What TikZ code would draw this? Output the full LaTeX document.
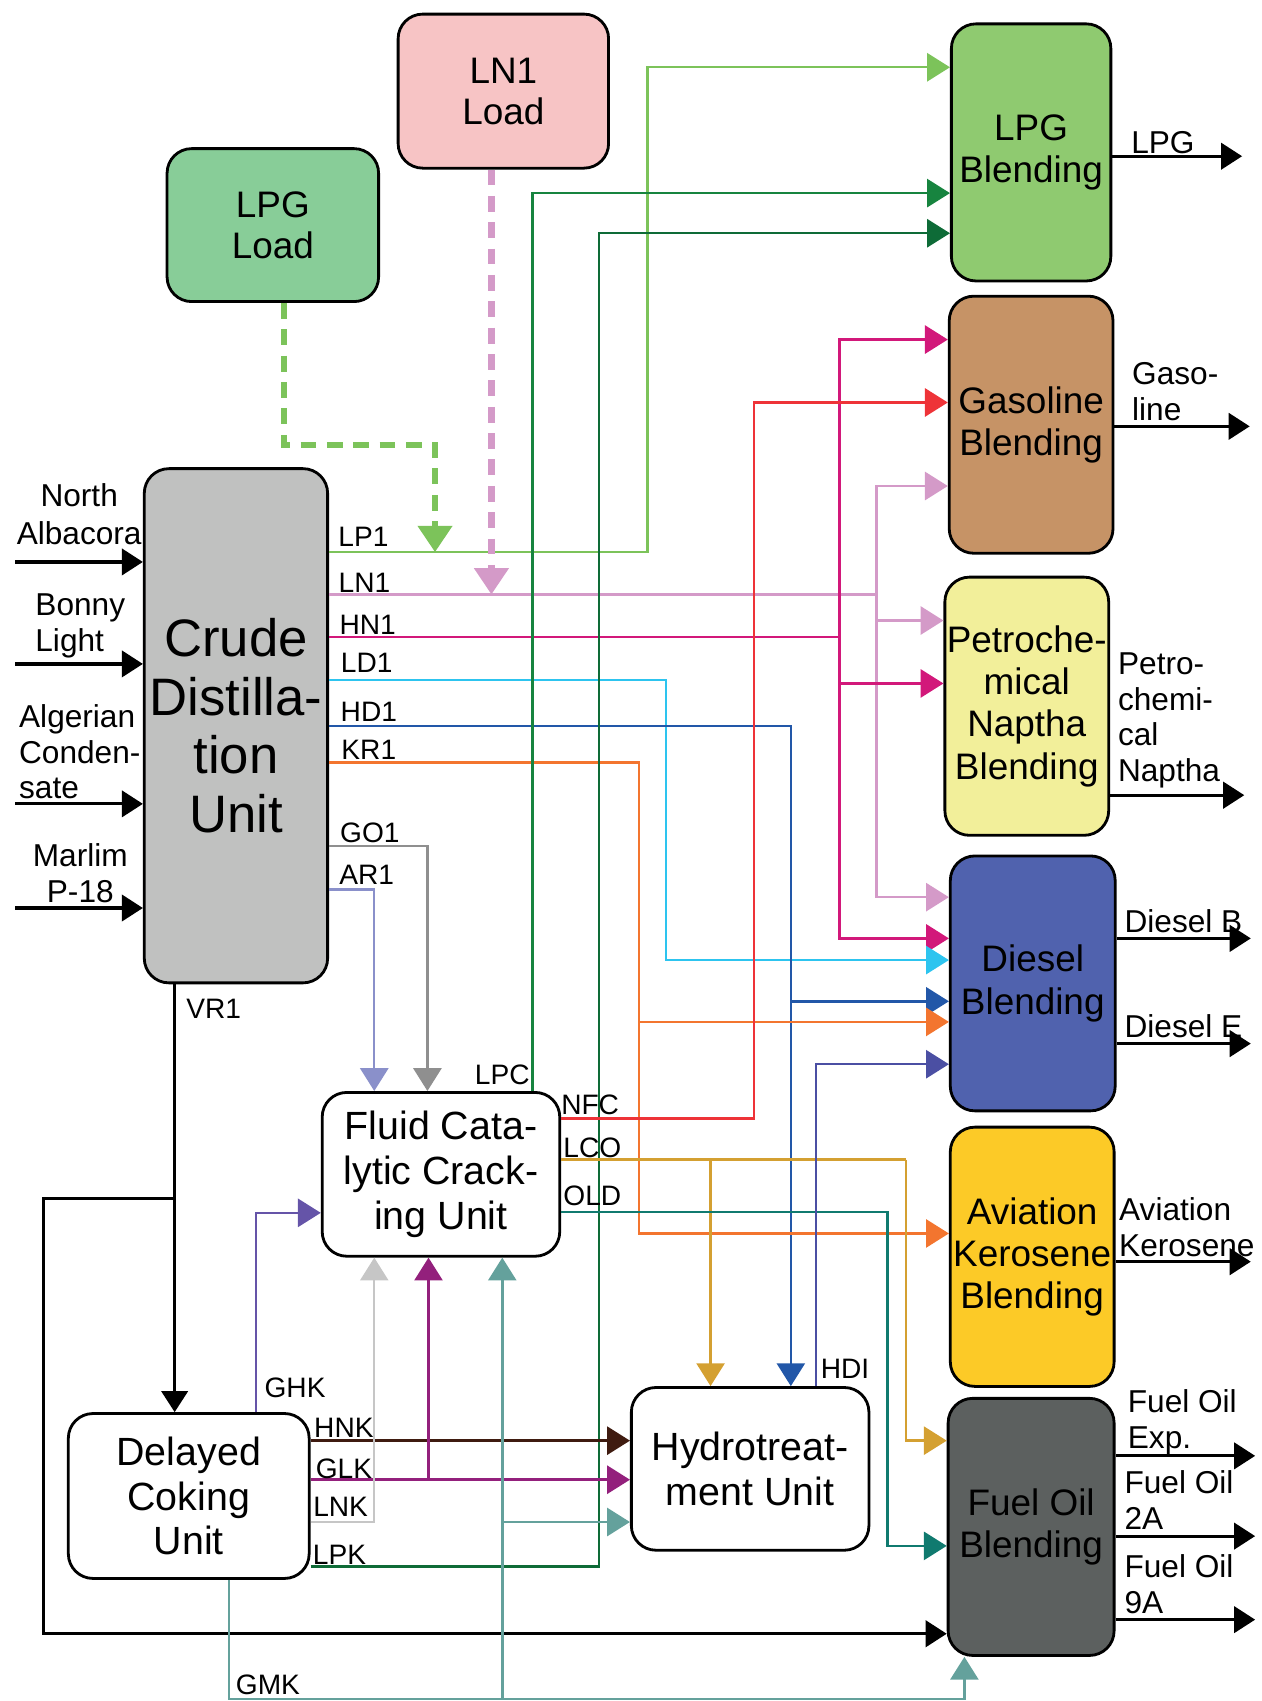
\documentclass[tikz,border=0pt]{standalone}
\usepackage{fontspec}
\setmainfont{Liberation Sans}
\usepackage{xcolor}
\usepackage{tikz}
\usetikzlibrary{arrows.meta}

\definecolor{cdugray}{HTML}{C0C1C0}
\definecolor{lpgloadc}{HTML}{88CD98}
\definecolor{ln1loadc}{HTML}{F7C4C5}
\definecolor{lpgbc}{HTML}{8FCA70}
\definecolor{gasbc}{HTML}{C69366}
\definecolor{petbc}{HTML}{F2EF9A}
\definecolor{diebc}{HTML}{5062AE}
\definecolor{avibc}{HTML}{FCCA27}
\definecolor{fuelbc}{HTML}{5C605F}
\definecolor{lp1c}{HTML}{7CC35A}
\definecolor{ln1c}{HTML}{D49AC8}
\definecolor{hn1c}{HTML}{D2187A}
\definecolor{ld1c}{HTML}{2DC4EF}
\definecolor{hd1c}{HTML}{2257A8}
\definecolor{kr1c}{HTML}{F3752F}
\definecolor{go1c}{HTML}{8F8F8F}
\definecolor{ar1c}{HTML}{8A90CA}
\definecolor{lpcc}{HTML}{17843F}
\definecolor{lpkc}{HTML}{0E6B37}
\definecolor{nfcc}{HTML}{EE3338}
\definecolor{lcoc}{HTML}{D4A031}
\definecolor{oldc}{HTML}{107A6F}
\definecolor{hdic}{HTML}{4B4FA3}
\definecolor{ghkc}{HTML}{6554A8}
\definecolor{hnkc}{HTML}{3F1B10}
\definecolor{glkc}{HTML}{93207C}
\definecolor{lnkc}{HTML}{C6C6C6}
\definecolor{gmkc}{HTML}{64A19C}

\begin{document}
\begin{tikzpicture}[x=0.10851mm, y=-0.10851mm]

\tikzstyle{every node}=[font=\fontsize{8}{9.5}\selectfont, inner sep=0pt]
\tikzstyle{unit}=[draw, line width=0.8pt, rounded corners=7pt, align=center, font=\fontsize{11.2}{12.7}\selectfont]
\tikzstyle{blend}=[unit, font=\fontsize{10.5}{12}\selectfont, execute at begin node={\rule{0pt}{10pt}}]
\tikzstyle{load}=[unit, font=\fontsize{10.5}{11.7}\selectfont]
\tikzstyle{ends}=[font=\fontsize{9}{10.2}\selectfont]
\tikzstyle{flow}=[line width=0.7pt, -{Triangle[length=6.5pt,width=8pt]}]
\tikzstyle{pipe}=[line width=0.7pt]
\tikzstyle{feed}=[line width=0.9pt, -{Triangle[length=6pt,width=7.5pt]}]
\tikzstyle{loading}=[line width=1.8pt, dash pattern=on 4.5pt off 3pt, -{Triangle[length=7.5pt,width=9.5pt]}]
\tikzset{boxsize/.style 2 args={minimum width=#1*0.10851mm, minimum height=#2*0.10851mm}}

\useasboundingbox (0,0) rectangle (1163,1568);

% units %
\node[unit, fill=cdugray, boxsize={169}{474}, font=\fontsize{15}{16.7}\selectfont] (cdu) at (217.5,669) {Crude\\Distilla-\\tion\\Unit};
\node[unit, fill=white, boxsize={219}{151}, execute at begin node={\rule{0pt}{10.1pt}}] (fcc) at (406.5,1082.5) {Fluid Cata-\\lytic Crack-\\ing Unit};
\node[unit, fill=white, boxsize={222}{152}] (dcu) at (174,1379) {Delayed\\Coking\\Unit};
\node[unit, fill=white, boxsize={219}{150}] (hdt) at (691.5,1354) {Hydrotreat-\\ment Unit};
\node[load, fill=lpgloadc, boxsize={195}{141}] (lpgload) at (251.5,207.5) {LPG\\Load};
\node[load, fill=ln1loadc, boxsize={194}{142}] (ln1load) at (464,84) {LN1\\Load};

% blending %
\node[blend, fill=lpgbc, boxsize={147}{237}] (lpgb) at (950.5,140.5) {LPG\\Blending};
\node[blend, fill=gasbc, boxsize={151}{237}] (gasb) at (950.5,391.5) {Gasoline\\Blending};
\node[blend, fill=petbc, boxsize={151}{238}] (petb) at (946.5,651) {Petroche-\\mical\\Naptha\\Blending};
\node[blend, fill=diebc, boxsize={152}{235}] (dieb) at (952,906.5) {Diesel\\Blending};
\node[blend, fill=avibc, boxsize={151}{239}] (avib) at (951.5,1158.5) {Aviation\\Kerosene\\Blending};
\node[blend, fill=fuelbc, boxsize={153}{237}] (fuelb) at (950.5,1407.5) {Fuel Oil\\Blending};

% crudes %
\coordinate (na) at (14,518);
\coordinate (bl) at (14,612);
\coordinate (ac) at (14,741);
\coordinate (mp) at (14,837);
\draw[feed] (na) -- (cdu.west |- na);
\draw[feed] (bl) -- (cdu.west |- bl);
\draw[feed] (ac) -- (cdu.west |- ac);
\draw[feed] (mp) -- (cdu.west |- mp);
\node[ends, align=center, font=\fontsize{9}{10.8}\selectfont] (nalbl) at (73,474) {North\\Albacora};
\node[ends, align=left, anchor=west] (bllbl) at (32,577) {Bonny\\Light};
\node[ends, align=left, anchor=west] (aclbl) at (17,693) {Algerian\\Conden-\\sate};
\node[ends, align=center] (mplbl) at (74,805) {Marlim\\P-18};

% products %
\coordinate (lpgout) at (1145,144);
\coordinate (gasout) at (1152,393);
\coordinate (petout) at (1147,733);
\coordinate (dbout) at (1153,865);
\coordinate (deout) at (1153,962);
\coordinate (aviout) at (1153,1163);
\coordinate (foexp) at (1157,1342);
\coordinate (fo2a) at (1157,1416);
\coordinate (fo9a) at (1157,1493);
\draw[feed] (lpgb.east |- lpgout) -- (lpgout);
\draw[feed] (gasb.east |- gasout) -- (gasout);
\draw[feed] (petb.east |- petout) -- (petout);
\draw[feed] (dieb.east |- dbout) -- (dbout);
\draw[feed] (dieb.east |- deout) -- (deout);
\draw[feed] (avib.east |- aviout) -- (aviout);
\draw[feed] (fuelb.east |- foexp) -- (foexp);
\draw[feed] (fuelb.east |- fo2a) -- (fo2a);
\draw[feed] (fuelb.east |- fo9a) -- (fo9a);
\node[ends] (lpglbl) at (1072,131) {LPG};
\node[ends, align=left, anchor=west] (gaslbl) at (1043,361) {Gaso-\\line};
\node[ends, align=left, anchor=west] (petlbl) at (1030,664) {Petro-\\chemi-\\cal\\Naptha};
\node[ends, anchor=west] (dblbl) at (1036,849) {Diesel B};
\node[ends, anchor=west] (delbl) at (1036,946) {Diesel E};
\node[ends, align=left, anchor=west] (avilbl) at (1031,1131) {Aviation\\Kerosene};
\node[ends, align=left, anchor=west] (foexplbl) at (1039,1311) {Fuel Oil\\Exp.};
\node[ends, align=left, anchor=west] (fo2albl) at (1036,1383) {Fuel Oil\\2A};
\node[ends, align=left, anchor=west] (fo9albl) at (1036,1460) {Fuel Oil\\9A};

% crude distillation cuts %
\draw[flow, lp1c] (cdu.east |- 0,509) -- (597,509) -- (597,62) -- (lpgb.west |- 0,62);
\draw[pipe, ln1c] (cdu.east |- 0,548) -- (808,548);
\draw[flow, ln1c] (808,548) |- (gasb.west |- 0,448);
\draw[flow, ln1c] (808,548) |- (petb.west |- 0,572);
\draw[flow, ln1c] (808,548) |- (dieb.west |- 0,827);
\draw[pipe, hn1c] (cdu.east |- 0,587) -- (774,587);
\draw[flow, hn1c] (774,587) |- (gasb.west |- 0,313);
\draw[flow, hn1c] (774,587) |- (petb.west |- 0,630);
\draw[flow, hn1c] (774,587) |- (dieb.west |- 0,865);
\draw[flow, ld1c] (cdu.east |- 0,627) -- (614,627) |- (dieb.west |- 0,885);
\draw[flow, hd1c] (cdu.east |- 0,669) -| (hdt.north -| 729,0);
\draw[flow, hd1c] (729,923) -- (dieb.west |- 0,923);
\draw[pipe, kr1c] (cdu.east |- 0,703) -- (589,703) -- (589,942);
\draw[flow, kr1c] (589,942) -- (dieb.west |- 0,942);
\draw[flow, kr1c] (589,942) |- (avib.west |- 0,1137);
\draw[flow, go1c] (cdu.east |- 0,780) -| (fcc.north -| 394,0);
\draw[flow, ar1c] (cdu.east |- 0,820) -| (fcc.north -| 345,0);

% loading lines %
\coordinate (lp1in) at (401,509);
\coordinate (ln1in) at (453,548);
\draw[loading, lp1c] (lpgload.south -| 262,0) -- (262,410) -- (401,410) -- (lp1in);
\draw[loading, ln1c] (ln1load.south -| 453,0) -- (ln1in);

% vacuum residue %
\draw[feed] (cdu.south -| 161,0) -- (dcu.north -| 161,0);
\draw[feed] (161,1105) -- (40,1105) -- (40,1506) -- (fuelb.west |- 0,1506);

% cracking and coking products %
\draw[flow, lpcc] (fcc.north -| 491,0) |- (lpgb.west |- 0,178);
\draw[flow, lpkc] (dcu.east |- 0,1444) -| (552,215) -- (lpgb.west |- 0,215);
\draw[flow, nfcc] (fcc.east |- 0,1031) -| (695,371) -- (gasb.west |- 0,371);
\draw[pipe, lcoc] (fcc.east |- 0,1069) -- (835,1069);
\draw[flow, lcoc] (835,1069) |- (fuelb.west |- 0,1328);
\draw[flow, lcoc] (655,1069) -- (hdt.north -| 655,0);
\draw[flow, oldc] (fcc.east |- 0,1117) -| (818,1425) -- (fuelb.west |- 0,1425);
\draw[flow, hdic] (hdt.north -| 752,0) |- (dieb.west |- 0,981);
\draw[flow, ghkc] (dcu.north -| 236,0) |- (fcc.west |- 0,1118);
\draw[flow, hnkc] (dcu.east |- 0,1328) -- (hdt.west |- 0,1328);
\draw[flow, glkc] (dcu.east |- 0,1364) -- (hdt.west |- 0,1364);
\draw[flow, glkc] (395,1364) -- (fcc.south -| 395,0);
\draw[flow, lnkc] (dcu.east |- 0,1403) -| (fcc.south -| 345,0);
\draw[flow, gmkc] (dcu.south -| 211,0) -- (211,1566) -| (fuelb.south -| 889,0);
\draw[flow, gmkc] (463,1566) -- (fcc.south -| 463,0);
\draw[flow, gmkc] (463,1403) -- (hdt.west |- 0,1403);

% stream labels %
\node (lp1lbl) at (335,495) {LP1};
\node (ln1lbl) at (336,537) {LN1};
\node (hn1lbl) at (339,576) {HN1};
\node (ld1lbl) at (338,611) {LD1};
\node (hd1lbl) at (340,656) {HD1};
\node (kr1lbl) at (340,691) {KR1};
\node (go1lbl) at (341,768) {GO1};
\node (ar1lbl) at (338,806) {AR1};
\node (vr1lbl) at (197,930) {VR1};
\node (lpclbl) at (463,991) {LPC};
\node (nfclbl) at (544,1018) {NFC};
\node (lcolbl) at (546,1058) {LCO};
\node (oldlbl) at (546,1102) {OLD};
\node (hdilbl) at (779,1262) {HDI};
\node (ghklbl) at (272,1279) {GHK};
\node (hnklbl) at (317,1316) {HNK};
\node (glklbl) at (317,1354) {GLK};
\node (lnklbl) at (314,1389) {LNK};
\node (lpklbl) at (313,1433) {LPK};
\node (gmklbl) at (247,1553) {GMK};

\end{tikzpicture}
\end{document}
